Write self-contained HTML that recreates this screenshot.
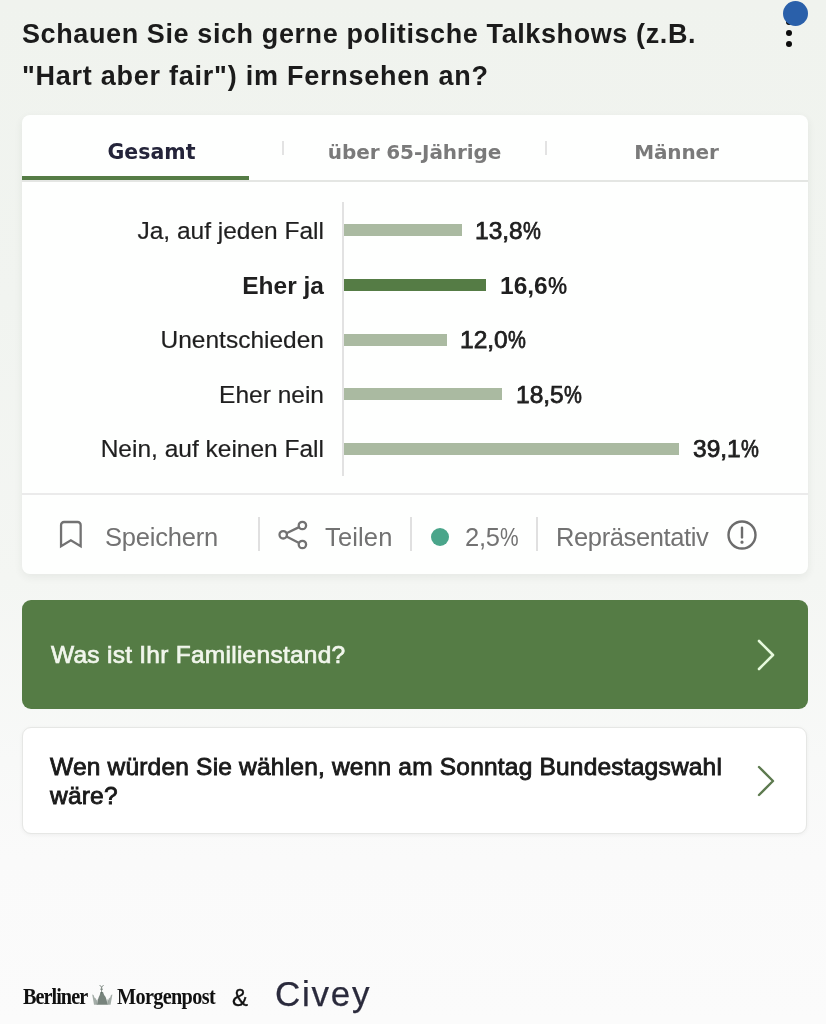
<!DOCTYPE html>
<html lang="de">
<head>
<meta charset="utf-8">
<title>Civey Umfrage</title>
<style>
*{box-sizing:border-box;margin:0;padding:0}
html,body{width:826px;height:1024px;overflow:hidden}
body{position:relative;background:linear-gradient(180deg,#f0f3ee 0px,#f1f4f0 300px,#f4f6f3 580px,#f8f9f8 760px,#fafafa 860px,#fbfbfb 1024px);font-family:"Liberation Sans",sans-serif;color:#1a1a1a}
.abs{position:absolute;white-space:nowrap}
h1{position:absolute;left:22px;top:12.5px;font-family:"Liberation Sans",sans-serif;font-weight:bold;font-size:27px;line-height:42px;color:#1b1b1b;white-space:nowrap}
h1 span{display:block;letter-spacing:.6px}
h1 span+span{letter-spacing:.75px}
.bluedot{position:absolute;left:783px;top:1px;width:25px;height:25px;border-radius:50%;background:#2a60aa}
.kebab i{position:absolute;left:786px;width:6px;height:6px;border-radius:50%;background:#0c0c0c}
.card{position:absolute;left:22px;top:115px;width:786px;height:459px;background:#fefffe;border-radius:8px;box-shadow:0 3px 9px rgba(40,60,40,.07)}
.tab{position:absolute;top:0;height:66px;line-height:74px;text-align:center;font-family:"DejaVu Sans","Liberation Sans",sans-serif;font-weight:bold;font-size:20px;letter-spacing:-.1px;color:#7a7a7a;white-space:nowrap}
.tab.on{color:#24243a;font-size:20.5px;letter-spacing:0;padding-right:2px}
.tabline{position:absolute;left:0;top:65px;width:786px;height:2px;background:#e4e6e3}
.tabon{position:absolute;left:0;top:61px;width:227px;height:4px;background:#557c45}
.tsep{position:absolute;top:26px;width:2px;height:14px;background:#e3e3e3}
.axis{position:absolute;left:320px;top:87px;width:2px;height:274px;background:#e2e2e2}
.row{position:absolute;left:0;width:786px;height:30px}
.row .lab{position:absolute;right:484px;top:.5px;line-height:30px;font-size:24.5px;color:#1f1f1f;white-space:nowrap;-webkit-text-stroke:.2px #1f1f1f}
.row .bar{position:absolute;left:322px;top:9px;height:12.3px;background:#aabaa1}
.pc{display:inline-block;transform:scaleX(.82);transform-origin:0 50%;margin-right:-4px}
.row .val{position:absolute;top:.5px;line-height:30px;font-size:24.5px;color:#1f1f1f;white-space:nowrap;-webkit-text-stroke:.75px #1c1c1c}
.row.hl .lab,.row.hl .val{font-weight:bold;-webkit-text-stroke:0}
.row.hl .pc{transform:scaleX(.88)}
.row.hl .bar{background:#557c45}
.hr{position:absolute;left:0;top:378px;width:786px;height:2px;background:#ebebeb}
.foot{position:absolute;font-size:25.5px;color:#727272;line-height:30px;white-space:nowrap;letter-spacing:-.2px}
.fsep{position:absolute;top:402px;width:1.5px;height:34px;background:#e0e0e0}
.btn{position:absolute;left:22px;top:600px;width:786px;height:109px;border-radius:9px;background:#557c45}
.btn span{position:absolute;left:29px;top:40px;line-height:30px;font-size:24.5px;letter-spacing:.26px;color:#f1f6ec;white-space:nowrap;-webkit-text-stroke:.7px #f1f6ec}
.card2{position:absolute;left:22px;top:727px;width:785px;height:107px;border-radius:9px;background:#fff;border:1.5px solid #e6e7e5;box-shadow:0 1px 4px rgba(0,0,0,.05)}
.card2 span{position:absolute;left:27px;top:23.5px;line-height:29px;font-size:24.5px;letter-spacing:.2px;color:#1a1a1a;white-space:nowrap;-webkit-text-stroke:.85px #181818}
.bm{position:absolute;left:23px;top:982px;font-family:"Liberation Serif",serif;font-weight:bold;font-size:23px;line-height:30px;color:#111;white-space:nowrap}
.bm span{transform:scaleX(.88);transform-origin:0 0}
.amp{position:absolute;left:232px;top:983px;font-size:24px;line-height:30px;color:#111;-webkit-text-stroke:.3px #111}
.civey{position:absolute;left:275px;top:972px;font-size:35px;line-height:44px;color:#2a2a3c;letter-spacing:1.75px;-webkit-text-stroke:.25px #2a2a3c}
</style>
</head>
<body>
<h1><span>Schauen Sie sich gerne politische Talkshows (z.B.</span><span>"Hart aber fair") im Fernsehen an?</span></h1>
<div class="kebab"><i style="top:19px"></i><i style="top:30px"></i><i style="top:41px"></i></div>
<div class="bluedot"></div>

<div class="card">
  <div class="tab on" style="left:0;width:261px">Gesamt</div>
  <div class="tab" style="left:261px;width:263px">über 65-Jährige</div>
  <div class="tab" style="left:524px;width:261px">Männer</div>
  <div class="tsep" style="left:260px"></div>
  <div class="tsep" style="left:523px"></div>
  <div class="tabline"></div>
  <div class="tabon"></div>

  <div class="axis"></div>
  <div class="row" style="top:100.2px"><span class="lab">Ja, auf jeden Fall</span><div class="bar" style="width:118px"></div><span class="val" style="left:453px">13,8<span class="pc">%</span></span></div>
  <div class="row hl" style="top:155px"><span class="lab">Eher ja</span><div class="bar" style="width:142px"></div><span class="val" style="left:478px">16,6<span class="pc">%</span></span></div>
  <div class="row" style="top:209.5px"><span class="lab">Unentschieden</span><div class="bar" style="width:103px"></div><span class="val" style="left:438px">12,0<span class="pc">%</span></span></div>
  <div class="row" style="top:264px"><span class="lab">Eher nein</span><div class="bar" style="width:158px"></div><span class="val" style="left:494px">18,5<span class="pc">%</span></span></div>
  <div class="row" style="top:318.6px"><span class="lab">Nein, auf keinen Fall</span><div class="bar" style="width:335px"></div><span class="val" style="left:671px">39,1<span class="pc">%</span></span></div>

  <div class="hr"></div>
  <svg class="abs" style="left:36px;top:405px" width="26" height="30" viewBox="0 0 26 30" fill="none" stroke="#727272" stroke-width="2.3" stroke-linejoin="miter"><path d="M3.05 26.2V5a3 3 0 0 1 3-3h13.6a3 3 0 0 1 3 3v21.2l-9.8-5.9z"/></svg>
  <span class="foot" style="left:83px;top:406.5px">Speichern</span>
  <div class="fsep" style="left:236px"></div>
  <svg class="abs" style="left:255px;top:405px" width="32" height="30" viewBox="0 0 32 30" fill="none" stroke="#727272" stroke-width="2.3"><circle cx="6.2" cy="14.8" r="3.7"/><circle cx="25.4" cy="5.5" r="3.7"/><circle cx="25.4" cy="24.5" r="3.7"/><path d="M9.5 13.2l12.6-6.1M9.5 16.4l12.6 6.5"/></svg>
  <span class="foot" style="left:303px;top:406.5px;letter-spacing:.15px">Teilen</span>
  <div class="fsep" style="left:388px"></div>
  <div class="abs" style="left:409px;top:413px;width:18px;height:18px;border-radius:50%;background:#4aa58a"></div>
  <span class="foot" style="left:443px;top:406.5px">2,5<span class="pc">%</span></span>
  <div class="fsep" style="left:514px"></div>
  <span class="foot" style="left:534px;top:406.5px;letter-spacing:-.38px">Repräsentativ</span>
  <svg class="abs" style="left:704px;top:404px" width="32" height="32" viewBox="0 0 32 32" fill="none" stroke="#6c6c6c" stroke-width="2.4" stroke-linecap="round"><circle cx="16" cy="16" r="13.5"/><path d="M16 8.8v9.6"/><circle cx="16" cy="23.2" r="1" fill="#6c6c6c" stroke-width="1.2"/></svg>
</div>

<div class="btn"><span>Was ist Ihr Familienstand?</span>
  <svg class="abs" style="left:733px;top:38px" width="22" height="34" viewBox="0 0 22 34" fill="none" stroke="#e6f9dc" stroke-width="2.6" stroke-linecap="round" stroke-linejoin="round"><path d="M4 3l14 14L4 31"/></svg>
</div>
<div class="card2"><span>Wen würden Sie wählen, wenn am Sonntag Bundestagswahl<br>wäre?</span>
  <svg class="abs" style="left:732px;top:36px" width="22" height="34" viewBox="0 0 22 34" fill="none" stroke="#5d7a4f" stroke-width="2.4" stroke-linecap="round" stroke-linejoin="round"><path d="M4 3l14 14L4 31"/></svg>
</div>

<div class="bm"><span class="abs" style="left:0;letter-spacing:-1.1px">Berliner</span><span class="abs" style="left:94px;letter-spacing:-.75px">Morgenpost</span></div>
<svg class="abs" style="left:91px;top:984px" width="24" height="22" viewBox="0 0 24 22">
  <g fill="none" stroke="#6a776f" stroke-width="1" opacity=".8"><path d="M10.600 2.800v6.500M8.600 1l2 2.200 2-2.200M9.200 5.200h2.800"/></g>
  <path d="M9.400 8h2.600l1.100 3 1.500 2 1 3 1 4.700H6l.8-4.700 1-3 1-2z" fill="#56655c" opacity=".8"/>
  <path d="M1.200 10.500l1.400.5.800 2.500 1.400 1 .8 2.500.6 3.700H3l-.8-4.700z" fill="#7f8c84" opacity=".7"/>
  <path d="M21.400 10.500l-1.400.5-.8 2.500-1.400 1-.8 2.500-.6 3.700h3.200l.8-4.700z" fill="#7f8c84" opacity=".7"/>
  <path d="M4.800 16.500l1.600-1.500.3 5.700H5.400zM17.800 16.500l-1.600-1.500-.3 5.700h1.300z" fill="#8e9a93" opacity=".6"/>
</svg>
<div class="amp">&amp;</div>
<div class="civey">Civey</div>
</body>
</html>
